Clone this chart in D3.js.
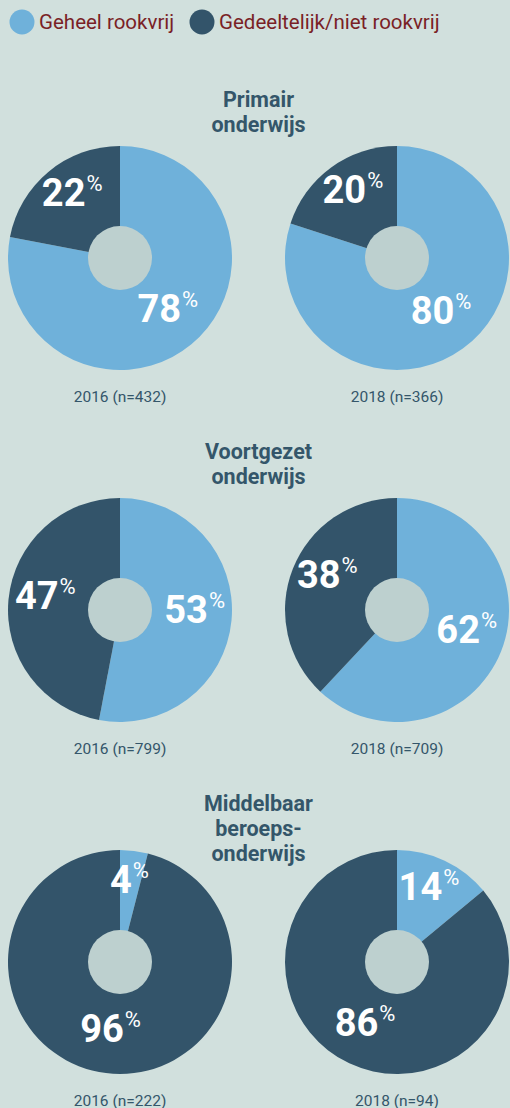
<!DOCTYPE html>
<html>
<head>
<meta charset="utf-8">
<script src="https://cdn.jsdelivr.net/npm/d3@7"></script>
<style>
  html, body { margin: 0; padding: 0; background: #d1e0dd; }
  svg { display: block; font-family: "Roboto", "Noto Sans", sans-serif; }
</style>
</head>
<body>
<div id="chart"></div>
<script>
// Data
const sectorLines = [["Primair", "onderwijs"], ["Voortgezet", "onderwijs"], ["Middelbaar", "beroeps-", "onderwijs"]];
const years = ["2016", "2018"];
const sampleSizes = [[432, 366], [799, 709], [222, 94]];
const geheelRookvrij = [[78, 80], [53, 62], [4, 14]];
const deelsRookvrij = [[22, 20], [47, 38], [96, 86]];
const legendLabels = ["Geheel rookvrij", "Gedeeltelijk/niet rookvrij"];

const width = 510, height = 1108;
const colours = ["#6fb1da", "#33546a"];
const radius = 112, innerR = 32;

const svg = d3.select("#chart").append("svg")
    .attr("width", width)
    .attr("height", height);

// legend
const legend = svg.append("g").attr("transform", "translate(0,22)");
const legendX = [22, 202];
legendLabels.forEach((lab, i) => {
    legend.append("circle")
        .attr("cx", legendX[i]).attr("cy", 0).attr("r", 12.5)
        .attr("fill", colours[i]);
    legend.append("text")
        .attr("x", legendX[i] + 17).attr("y", 0)
        .attr("dy", "0.35em")
        .attr("font-size", 20.5)
        .attr("fill", "#7a1f26")
        .text(lab);
});

const x = d3.scalePoint().domain(years).range([120, 397]);
const y = d3.scalePoint().domain(d3.range(sectorLines.length)).range([258, 962]);

const pie = d3.pie().sort(null).value(d => d);
const arc = d3.arc().innerRadius(0).outerRadius(radius);
const labelArc = d3.arc().innerRadius(75).outerRadius(75);

sectorLines.forEach((lines, s) => {
    const cy = y(s);
    // title: first line sits at a fixed spot above the pies, extra lines run down
    const title = svg.append("text")
        .attr("text-anchor", "middle")
        .attr("font-size", 21.5)
        .attr("font-weight", "bold")
        .attr("fill", "#34566a");
    const lineH = 25;
    const firstY = cy - radius - 39;
    lines.forEach((l, k) => {
        title.append("tspan")
            .attr("x", (x(years[0]) + x(years[1])) / 2)
            .attr("y", firstY + k * lineH)
            .text(l);
    });

    years.forEach((yr, j) => {
        const g = svg.append("g")
            .attr("transform", `translate(${x(yr)},${cy})`);
        const vals = [geheelRookvrij[s][j], deelsRookvrij[s][j]];
        const arcs = pie(vals);
        g.selectAll("path.slice")
            .data(arcs)
            .join("path")
            .attr("class", "slice")
            .attr("d", arc)
            .attr("fill", (d, i) => colours[i]);
        g.append("circle")
            .attr("r", innerR)
            .attr("fill", "#bdd0cf");

        const lbl = g.selectAll("text.pct")
            .data(arcs)
            .join("text")
            .attr("class", "pct")
            .attr("transform", d => `translate(${labelArc.centroid(d)})`)
            .attr("text-anchor", "middle")
            .attr("dy", "0.36em")
            .attr("fill", "#ffffff");
        lbl.append("tspan")
            .attr("font-size", 38)
            .attr("font-weight", "bold")
            .text(d => d.data);
        lbl.append("tspan")
            .attr("font-size", 22)
            .attr("dx", 1)
            .attr("dy", -15)
            .text("%");

        svg.append("text")
            .attr("x", x(yr))
            .attr("y", cy + radius + 27)
            .attr("dy", "0.35em")
            .attr("text-anchor", "middle")
            .attr("font-size", 15.5)
            .attr("fill", "#34566a")
            .text(`${yr} (n=${sampleSizes[s][j]})`);
    });
});
</script>
</body>
</html>
